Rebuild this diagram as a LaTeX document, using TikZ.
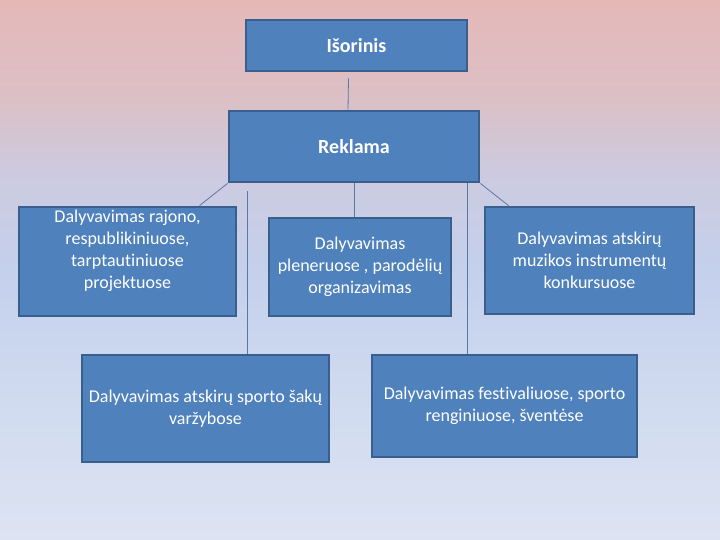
\documentclass[tikz,border=0pt]{standalone}
\usepackage{fontspec}
\setmainfont{Carlito}[Ligatures=NoCommon]
\definecolor{boxfill}{HTML}{4F81BD}
\definecolor{boxline}{HTML}{3A5F8C}
\definecolor{connc}{HTML}{5878AA}
\definecolor{bgA}{HTML}{E5B8B8}
\definecolor{bgB}{HTML}{DBC0C6}
\definecolor{bgC}{HTML}{CDCADF}
\definecolor{bgD}{HTML}{C4D0EC}
\definecolor{bgE}{HTML}{D0DBF0}
\definecolor{bgF}{HTML}{DDE3F2}
\begin{document}
\begin{tikzpicture}[x=1pt,y=-1pt,
  box/.style={draw=boxline, fill=boxfill, line width=2.8pt, text=white, align=center, inner sep=0pt,
    font=\fontsize{18}{22}\selectfont},
  title/.style={box, font=\bfseries\fontsize{20}{22}\selectfont},
  txt/.style={text=white, align=center, inner sep=0pt, font=\fontsize{18}{22}\selectfont},
  conn/.style={draw=connc, line width=0.8pt}]
\shade[top color=bgA, bottom color=bgB] (0,0) rectangle (720,100.5);
\shade[top color=bgB, bottom color=bgC] (0,100) rectangle (720,170.5);
\shade[top color=bgC, bottom color=bgD] (0,170) rectangle (720,270.5);
\shade[top color=bgD, bottom color=bgE] (0,270) rectangle (720,400.5);
\shade[top color=bgE, bottom color=bgF] (0,400) rectangle (720,540);
\useasboundingbox (0,0) rectangle (720,540);
\node[title, minimum width=221pt, minimum height=51pt] (isor) at (356.5,45.5) {Išorinis};
\node[title, minimum width=250pt, minimum height=71pt] (rek) at (354,146.5) {Reklama};
\node[box, minimum width=217pt, minimum height=109pt] (left) at (127.5,261.5) {};
\node[txt] (lefttxt) at (127.5,251) {Dalyvavimas rajono,\\respublikiniuose,\\tarptautiniuose\\projektuose};
\node[box, minimum width=182pt, minimum height=98pt] (mid) at (360,267) {Dalyvavimas\\pleneruose , parodėlių\\organizavimas};
\node[box, minimum width=209pt, minimum height=107pt] (right) at (589.5,260.5) {Dalyvavimas atskirų\\muzikos instrumentų\\konkursuose};
\node[box, minimum width=247pt, minimum height=107pt] (bl) at (205.5,408.5) {Dalyvavimas atskirų sporto šakų\\varžybose};
\node[box, minimum width=265pt, minimum height=102pt] (br) at (504.5,406) {Dalyvavimas festivaliuose, sporto\\renginiuose, šventėse};
\draw[conn] ([xshift=-8pt,yshift=-6pt]isor.south) -- ([xshift=-6pt]rek.north);
\draw[conn] (rek.south west) -- ([xshift=72pt]left.north);
\coordinate (v1) at ([xshift=-107pt,yshift=-8pt]rek.south);
\draw[conn] (v1) -- (v1 |- bl.north);
\draw[conn] (rek.south) -- (rek.south |- mid.north);
\coordinate (v2) at ([xshift=113pt]rek.south);
\draw[conn] (v2) -- (v2 |- br.north);
\draw[conn] (rek.south east) -- ([xshift=-81pt]right.north);
\end{tikzpicture}
\end{document}
